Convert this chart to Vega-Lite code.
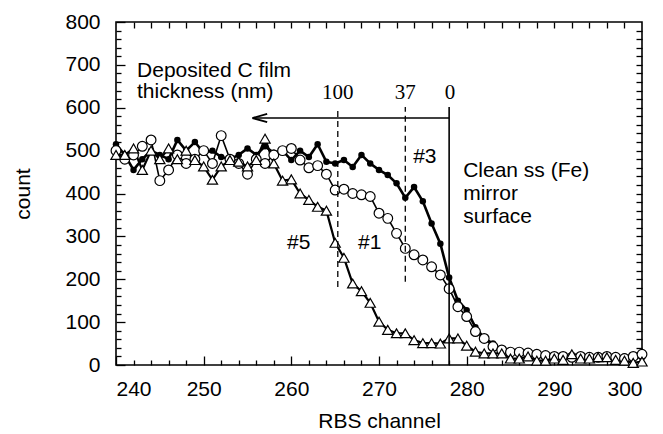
{
  "$schema": "https://vega.github.io/schema/vega-lite/v6.json",
  "width": 526,
  "height": 343,
  "autosize": {"type": "none"},
  "padding": {"left": 116, "top": 22, "right": 21, "bottom": 69},
  "background": "white",
  "config": {
    "view": {"stroke": "black", "strokeWidth": 1.6},
    "axis": {"domain": false, "grid": false, "labelFont": "Liberation Sans", "labelFontSize": 21, "labelColor": "black", "tickColor": "black", "tickWidth": 1.3, "titleFont": "Liberation Sans", "titleFontSize": 21, "titleFontWeight": "normal", "titleColor": "black"},
    "text": {"font": "Liberation Sans", "fontSize": 21, "color": "black"}
  },
  "datasets": {
    "rbs": [
      {"ch":240,"s3":515,"s1":500,"s5":490},{"ch":241,"s3":490,"s1":480,"s5":490},{"ch":242,"s3":455,"s1":490,"s5":505},{"ch":243,"s3":480,"s1":510,"s5":455},{"ch":244,"s3":500,"s1":525,"s5":500},{"ch":245,"s3":490,"s1":430,"s5":480},{"ch":246,"s3":480,"s1":455,"s5":505},{"ch":247,"s3":525,"s1":490,"s5":480},{"ch":248,"s3":500,"s1":470,"s5":500},{"ch":249,"s3":520,"s1":480,"s5":478},
      {"ch":250,"s3":495,"s1":500,"s5":463},{"ch":251,"s3":500,"s1":470,"s5":432},{"ch":252,"s3":485,"s1":535,"s5":463},{"ch":253,"s3":480,"s1":480,"s5":478},{"ch":254,"s3":490,"s1":470,"s5":474},{"ch":255,"s3":505,"s1":445,"s5":463},{"ch":256,"s3":490,"s1":480,"s5":478},{"ch":257,"s3":510,"s1":470,"s5":528},{"ch":258,"s3":495,"s1":490,"s5":470},{"ch":259,"s3":500,"s1":500,"s5":430},
      {"ch":260,"s3":478,"s1":505,"s5":433},{"ch":261,"s3":500,"s1":478,"s5":400},{"ch":262,"s3":485,"s1":460,"s5":385},{"ch":263,"s3":515,"s1":465,"s5":369},{"ch":264,"s3":474,"s1":445,"s5":360},{"ch":265,"s3":470,"s1":408,"s5":285},{"ch":266,"s3":478,"s1":410,"s5":250},{"ch":267,"s3":462,"s1":400,"s5":190},{"ch":268,"s3":490,"s1":397,"s5":172},{"ch":269,"s3":470,"s1":393,"s5":145},
      {"ch":270,"s3":455,"s1":354,"s5":101},{"ch":271,"s3":443,"s1":342,"s5":82},{"ch":272,"s3":424,"s1":307,"s5":74},{"ch":273,"s3":390,"s1":272,"s5":74},{"ch":274,"s3":415,"s1":257,"s5":58},{"ch":275,"s3":382,"s1":245,"s5":51},{"ch":276,"s3":330,"s1":229,"s5":51},{"ch":277,"s3":283,"s1":210,"s5":50},{"ch":278,"s3":204,"s1":178,"s5":62},{"ch":279,"s3":150,"s1":136,"s5":62},
      {"ch":280,"s3":128,"s1":113,"s5":45},{"ch":281,"s3":88,"s1":78,"s5":31},{"ch":282,"s3":62,"s1":62,"s5":27},{"ch":283,"s3":50,"s1":43,"s5":27},{"ch":284,"s3":30,"s1":35,"s5":27},{"ch":285,"s3":30,"s1":30,"s5":15},{"ch":286,"s3":28,"s1":30,"s5":15},{"ch":287,"s3":25,"s1":28,"s5":20},{"ch":288,"s3":25,"s1":25,"s5":10},{"ch":289,"s3":22,"s1":22,"s5":10},
      {"ch":290,"s3":22,"s1":20,"s5":15},{"ch":291,"s3":20,"s1":20,"s5":12},{"ch":292,"s3":20,"s1":18,"s5":25},{"ch":293,"s3":22,"s1":20,"s5":15},{"ch":294,"s3":18,"s1":18,"s5":15},{"ch":295,"s3":20,"s1":18,"s5":18},{"ch":296,"s3":20,"s1":20,"s5":18},{"ch":297,"s3":18,"s1":18,"s5":12},{"ch":298,"s3":20,"s1":15,"s5":10},{"ch":299,"s3":18,"s1":20,"s5":5},
      {"ch":300,"s3":18,"s1":25,"s5":8}
    ],
    "dashed": [
      {"x": 265.3, "y1": 182, "y2": 602},
      {"x": 273.0, "y1": 194, "y2": 602}
    ],
    "solid": [
      {"x": 278.0, "y1": 0, "y2": 602}
    ],
    "arrow": [
      {"x": 255.6, "x2": 278.0, "y": 576}
    ],
    "head": [
      {"x": 256.4, "y": 576}
    ],
    "labels": [
      {"x": 242.4, "y": 686, "t": "Deposited C film"},
      {"x": 242.4, "y": 637, "t": "thickness (nm)"},
      {"x": 279.6, "y": 452, "t": "Clean ss (Fe)"},
      {"x": 279.6, "y": 399, "t": "mirror"},
      {"x": 279.6, "y": 345, "t": "surface"},
      {"x": 273.9, "y": 485, "t": "#3"},
      {"x": 259.5, "y": 285, "t": "#5"},
      {"x": 267.6, "y": 285, "t": "#1"}
    ],
    "serif": [
      {"x": 265.3, "y": 635, "t": "100"},
      {"x": 273.0, "y": 635, "t": "37"},
      {"x": 278.1, "y": 635, "t": "0"}
    ]
  },
  "resolve": {"axis": {"x": "independent", "y": "independent"}},
  "layer": [
    {
      "data": {"name": "rbs"},
      "mark": {"type": "line", "color": "black", "strokeWidth": 2.6},
      "encoding": {
        "x": {"field": "ch", "type": "quantitative", "scale": {"domain": [240, 300], "nice": false, "zero": false},
              "axis": {"orient": "bottom", "values": [240,250,260,270,280,290,300], "tickSize": -9, "labelPadding": 22, "title": "RBS channel", "titlePadding": 11}},
        "y": {"field": "s3", "type": "quantitative", "scale": {"domain": [0, 800], "nice": false, "zero": true},
              "axis": {"orient": "left", "values": [0,100,200,300,400,500,600,700,800], "tickSize": -9, "labelPadding": 25, "title": "count", "titlePadding": 31}}
      }
    },
    {
      "data": {"name": "rbs"},
      "mark": {"type": "line", "color": "black", "strokeWidth": 1.6},
      "encoding": {
        "x": {"field": "ch", "type": "quantitative", "scale": {"domain": [240, 300], "nice": false, "zero": false},
              "axis": {"orient": "bottom", "values": [242,244,246,248,252,254,256,258,262,264,266,268,272,274,276,278,282,284,286,288,292,294,296,298], "tickSize": -5, "labels": false, "title": null}},
        "y": {"field": "s1", "type": "quantitative", "scale": {"domain": [0, 800], "nice": false, "zero": true},
              "axis": {"orient": "left", "values": [20,40,60,80,120,140,160,180,220,240,260,280,320,340,360,380,420,440,460,480,520,540,560,580,620,640,660,680,720,740,760,780], "tickSize": -5, "labels": false, "title": null}}
      }
    },
    {
      "data": {"name": "rbs"},
      "mark": {"type": "line", "color": "black", "strokeWidth": 2.2},
      "encoding": {
        "x": {"field": "ch", "type": "quantitative", "scale": {"domain": [240, 300], "nice": false, "zero": false},
              "axis": {"orient": "top", "values": [242,244,246,248,250,252,254,256,258,260,262,264,266,268,270,272,274,276,278,280,282,284,286,288,290,292,294,296,298], "tickSize": -6, "labels": false, "title": null}},
        "y": {"field": "s5", "type": "quantitative", "scale": {"domain": [0, 800], "nice": false, "zero": true},
              "axis": {"orient": "right", "values": [20,40,60,80,100,120,140,160,180,200,220,240,260,280,300,320,340,360,380,400,420,440,460,480,500,520,540,560,580,600,620,640,660,680,700,720,740,760,780], "tickSize": -6, "labels": false, "title": null}}
      }
    },
    {
      "data": {"name": "rbs"},
      "mark": {"type": "point", "shape": "circle", "filled": true, "color": "black", "size": 42, "opacity": 1},
      "encoding": {
        "x": {"field": "ch", "type": "quantitative", "scale": {"domain": [240, 300]}, "axis": null},
        "y": {"field": "s3", "type": "quantitative", "scale": {"domain": [0, 800]}, "axis": null}
      }
    },
    {
      "data": {"name": "rbs"},
      "mark": {"type": "point", "shape": "circle", "filled": true, "fill": "white", "stroke": "black", "strokeWidth": 1.2, "size": 95, "opacity": 1},
      "encoding": {
        "x": {"field": "ch", "type": "quantitative", "scale": {"domain": [240, 300]}, "axis": null},
        "y": {"field": "s1", "type": "quantitative", "scale": {"domain": [0, 800]}, "axis": null}
      }
    },
    {
      "data": {"name": "rbs"},
      "mark": {"type": "point", "shape": "triangle-up", "filled": true, "fill": "white", "stroke": "black", "strokeWidth": 1.2, "size": 105, "opacity": 1},
      "encoding": {
        "x": {"field": "ch", "type": "quantitative", "scale": {"domain": [240, 300]}, "axis": null},
        "y": {"field": "s5", "type": "quantitative", "scale": {"domain": [0, 800]}, "axis": null}
      }
    },
    {
      "data": {"name": "dashed"},
      "mark": {"type": "rule", "color": "black", "strokeWidth": 1.3, "strokeDash": [6, 4]},
      "encoding": {
        "x": {"field": "x", "type": "quantitative", "scale": {"domain": [240, 300]}, "axis": null},
        "y": {"field": "y1", "type": "quantitative", "scale": {"domain": [0, 800]}, "axis": null},
        "y2": {"field": "y2"}
      }
    },
    {
      "data": {"name": "solid"},
      "mark": {"type": "rule", "color": "black", "strokeWidth": 1.6},
      "encoding": {
        "x": {"field": "x", "type": "quantitative", "scale": {"domain": [240, 300]}, "axis": null},
        "y": {"field": "y1", "type": "quantitative", "scale": {"domain": [0, 800]}, "axis": null},
        "y2": {"field": "y2"}
      }
    },
    {
      "data": {"name": "arrow"},
      "mark": {"type": "rule", "color": "black", "strokeWidth": 1.6},
      "encoding": {
        "x": {"field": "x", "type": "quantitative", "scale": {"domain": [240, 300]}, "axis": null},
        "x2": {"field": "x2"},
        "y": {"field": "y", "type": "quantitative", "scale": {"domain": [0, 800]}, "axis": null}
      }
    },
    {
      "data": {"name": "head"},
      "mark": {"type": "point", "shape": "M-1,0L1,-0.55M-1,0L1,0.55", "filled": false, "stroke": "black", "strokeWidth": 1.8, "size": 220, "opacity": 1},
      "encoding": {
        "x": {"field": "x", "type": "quantitative", "scale": {"domain": [240, 300]}, "axis": null},
        "y": {"field": "y", "type": "quantitative", "scale": {"domain": [0, 800]}, "axis": null}
      }
    },
    {
      "data": {"name": "labels"},
      "mark": {"type": "text", "align": "left", "baseline": "middle", "font": "Liberation Sans", "fontSize": 21},
      "encoding": {
        "x": {"field": "x", "type": "quantitative", "scale": {"domain": [240, 300]}, "axis": null},
        "y": {"field": "y", "type": "quantitative", "scale": {"domain": [0, 800]}, "axis": null},
        "text": {"field": "t"}
      }
    },
    {
      "data": {"name": "serif"},
      "mark": {"type": "text", "align": "center", "baseline": "middle", "font": "Liberation Serif", "fontSize": 21},
      "encoding": {
        "x": {"field": "x", "type": "quantitative", "scale": {"domain": [240, 300]}, "axis": null},
        "y": {"field": "y", "type": "quantitative", "scale": {"domain": [0, 800]}, "axis": null},
        "text": {"field": "t"}
      }
    }
  ]
}
